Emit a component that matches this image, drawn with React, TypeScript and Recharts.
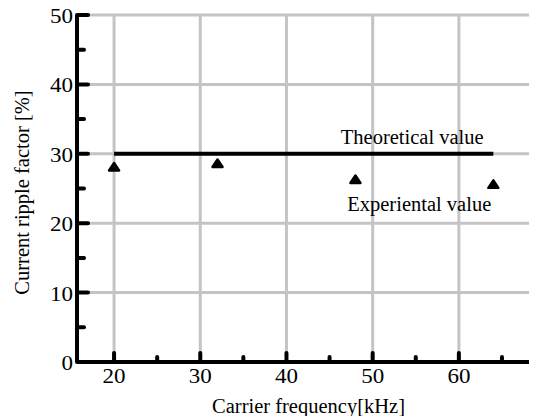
import React from 'react';
import { ComposedChart, Scatter, XAxis, YAxis, CartesianGrid, ReferenceDot } from 'recharts';

const theoreticalFreq = [20, 64];
const theoreticalRipple = [30, 30];
const experimentalFreq = [20, 32, 48, 64];
const experimentalRipple = [28.1, 28.6, 26.3, 25.6];
const xTicks = [20, 25, 30, 35, 40, 45, 50, 55, 60, 65];
const yTicks = [0, 5, 10, 15, 20, 25, 30, 35, 40, 45, 50];
const xGridLines = [20, 30, 40, 50, 60];
const yGridLines = [10, 20, 30, 40, 50];
const xDomain = [15.7, 68.6];
const yDomain = [0, 50];
const xTitle = 'Carrier frequency[kHz]';
const yTitle = 'Current ripple factor [%]';
const theoreticalLabel = 'Theoretical value';
const theoreticalLabelAt = [46.3, 31.4];
const experimentalLabel = 'Experiental value';
const experimentalLabelAt = [47.05, 21.7];

const theoreticalData = theoreticalFreq.map((f, i) => ({ f, r: theoreticalRipple[i] }));
const experimentalData = experimentalFreq.map((f, i) => ({ f, r: experimentalRipple[i] }));

const FONT = "'Liberation Serif', 'Times New Roman', Times, 'DejaVu Serif', 'Noto Serif', serif";

const XTick = (props: any) => {
  const { x, y, payload } = props;
  const v = payload.value;
  const major = v % 10 === 0;
  return (
    <g>
      <line x1={x} x2={x} y1={y} y2={y - (major ? 9 : 5)} stroke="#000" strokeWidth={4} strokeLinecap="round" />
      {major && (
        <text
          transform={`translate(${x},${y + 20.5}) scale(1.15,1)`}
          textAnchor="middle"
          fontSize={20}
          style={{ fontFamily: FONT }}
          fill="#000"
        >
          {v}
        </text>
      )}
    </g>
  );
};

const YTick = (props: any) => {
  const { x, y, payload } = props;
  const v = payload.value;
  const major = v % 10 === 0;
  return (
    <g>
      <line x1={x} x2={x + (major ? 11 : 7)} y1={y} y2={y} stroke="#000" strokeWidth={4} strokeLinecap="round" />
      {major && (
        <text
          transform={`translate(${x - 4},${y + 8}) scale(1.15,1)`}
          textAnchor="end"
          fontSize={20}
          style={{ fontFamily: FONT }}
          fill="#000"
        >
          {v}
        </text>
      )}
    </g>
  );
};

const Triangle = (props: any) => {
  const { cx, cy } = props;
  if (cx == null || cy == null) return <g />;
  const d = `M${cx - 5},${cy + 3.5} L${cx + 5},${cy + 3.5} L${cx},${cy - 4} Z`;
  return <path d={d} fill="#000" stroke="#000" strokeWidth={2.5} strokeLinejoin="round" />;
};

const NoShape = () => <g />;

const makeAnno = (text: string) => (props: any) => (
  <text x={props.cx} y={props.cy} fontSize={20.5} style={{ fontFamily: FONT }} fill="#000">
    {text}
  </text>
);

export default function App() {
  return (
    <div style={{ marginTop: -8, marginLeft: -8, width: 537, height: 416, fontFamily: FONT }}>
      <ComposedChart
        width={537}
        height={416}
        margin={{ top: 15, right: 4, left: 0, bottom: 0 }}
      >
        <CartesianGrid
          stroke="#c4c4c4"
          strokeWidth={3}
          verticalValues={xGridLines}
          horizontalValues={yGridLines}
        />
        <XAxis
          type="number"
          dataKey="f"
          domain={xDomain}
          ticks={xTicks}
          interval={0}
          allowDataOverflow
          height={54}
          tickSize={0}
          tickMargin={0}
          tick={<XTick />}
          axisLine={{ stroke: '#000', strokeWidth: 4 }}
          label={(p: any) => {
            const vb = p.viewBox;
            return (
              <text x={vb.x + vb.width / 2 + 3.5} y={413} textAnchor="middle" fontSize={20.5} style={{ fontFamily: FONT }} fill="#000">
                {xTitle}
              </text>
            );
          }}
        />
        <YAxis
          type="number"
          dataKey="r"
          domain={yDomain}
          ticks={yTicks}
          interval={0}
          allowDataOverflow
          width={77}
          tickSize={0}
          tickMargin={0}
          tick={<YTick />}
          axisLine={{ stroke: '#000', strokeWidth: 4 }}
          label={(p: any) => {
            const vb = p.viewBox;
            const cy = vb.y + vb.height / 2 + 4;
            return (
              <text
                x={29}
                y={cy}
                transform={`rotate(-90, 29, ${cy})`}
                textAnchor="middle"
                fontSize={20.5}
                style={{ fontFamily: FONT }}
                fill="#000"
              >
                {yTitle}
              </text>
            );
          }}
        />
        <Scatter
          data={theoreticalData}
          line={{ stroke: '#000', strokeWidth: 4 }}
          shape={NoShape}
          isAnimationActive={false}
        />
        <Scatter data={experimentalData} shape={Triangle} isAnimationActive={false} />
        <ReferenceDot x={theoreticalLabelAt[0]} y={theoreticalLabelAt[1]} r={0} shape={makeAnno(theoreticalLabel)} />
        <ReferenceDot x={experimentalLabelAt[0]} y={experimentalLabelAt[1]} r={0} shape={makeAnno(experimentalLabel)} />
      </ComposedChart>
    </div>
  );
}
